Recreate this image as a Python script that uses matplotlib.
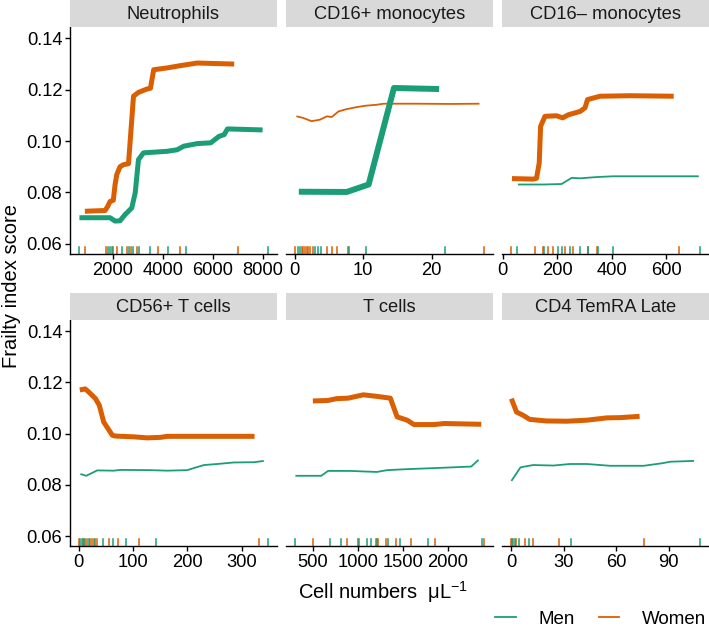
import matplotlib
matplotlib.use('Agg')
import matplotlib.pyplot as plt
from matplotlib.lines import Line2D

plt.rcParams['font.family'] = ['Liberation Sans', 'DejaVu Sans']

MEN = '#1B9E77'
WOMEN = '#D95F02'

# --- data ---------------------------------------------------------------
# Neutrophils
neut_men_x = [650, 1880, 2080, 2280, 2480, 2750, 2890, 3020, 3220, 4170, 4570, 4840, 5380, 5920, 6250, 6460, 6590, 8000]
neut_men_y = [0.0702, 0.0702, 0.0689, 0.0690, 0.0714, 0.0740, 0.0799, 0.0928, 0.0954, 0.0960, 0.0966, 0.0980, 0.0990, 0.0993, 0.1018, 0.1025, 0.1047, 0.1043]
neut_women_x = [870, 1680, 1780, 1880, 2010, 2080, 2150, 2280, 2420, 2620, 2820, 3020, 3360, 3500, 3630, 4170, 4710, 5380, 6860]
neut_women_y = [0.0727, 0.0730, 0.0745, 0.0765, 0.0770, 0.0830, 0.0870, 0.0900, 0.0908, 0.0912, 0.1174, 0.1189, 0.1202, 0.1205, 0.1277, 0.1284, 0.1293, 0.1303, 0.1299]
neut_men_rug = [650, 1810, 1880, 2013, 2350, 2620, 2820, 3050, 3470, 4190, 4910, 8200]
neut_women_rug = [870, 1720, 1950, 2150, 2550, 2730, 2980, 3790, 4680, 7000]

# CD16+ monocytes
cd16p_men_x = [0.6, 7.6, 10.8, 14.5, 21.1]
cd16p_men_y = [0.0803, 0.0802, 0.0831, 0.1206, 0.1202]
cd16p_women_x = [0.25, 1.2, 2.45, 3.7, 4.7, 5.4, 6.4, 7.6, 9.1, 10.3, 12.0, 13.0, 17.9, 22.8, 27.0]
cd16p_women_y = [0.1096, 0.1090, 0.1077, 0.1083, 0.1096, 0.1093, 0.1115, 0.1124, 0.1132, 0.1137, 0.1141, 0.1145, 0.1145, 0.1144, 0.1145]
cd16p_men_rug = [0.5, 0.8, 2.9, 3.4, 3.9, 8.0, 10.4, 21.9]
cd16p_women_rug = [0.1, 1.0, 1.25, 1.5, 1.75, 2.0, 2.2, 2.7, 4.7, 5.4, 6.2, 7.8, 27.6]

# CD16- monocytes
cd16n_men_x = [56, 148, 216, 253, 284, 345, 406, 719]
cd16n_men_y = [0.0831, 0.0831, 0.0833, 0.0857, 0.0855, 0.0860, 0.0863, 0.0863]
cd16n_women_x = [34, 112, 124, 134, 139, 155, 198, 220, 241, 284, 302, 311, 357, 468, 627]
cd16n_women_y = [0.0854, 0.0852, 0.0855, 0.0915, 0.1057, 0.1096, 0.1098, 0.1090, 0.1102, 0.1115, 0.1129, 0.1161, 0.1174, 0.1176, 0.1174]
cd16n_men_rug = [54, 150, 204, 216, 247, 284, 314, 351, 403, 722]
cd16n_women_rug = [32, 118, 146, 167, 185, 228, 259, 311, 345, 646]

# CD56+ T cells
cd56_men_x = [3, 14, 34, 65, 77, 132, 163, 200, 212, 231, 255, 286, 323, 341]
cd56_men_y = [0.0842, 0.0835, 0.0856, 0.0855, 0.0858, 0.0857, 0.0855, 0.0857, 0.0865, 0.0877, 0.0881, 0.0887, 0.0888, 0.0893]
cd56_women_x = [2, 12, 18, 31, 38, 46, 54, 62, 68, 102, 126, 151, 163, 225, 324]
cd56_women_y = [0.1170, 0.1174, 0.1163, 0.1136, 0.1110, 0.1045, 0.1019, 0.0993, 0.0990, 0.0987, 0.0983, 0.0985, 0.0989, 0.0989, 0.0989]
cd56_men_rug = [3, 8, 12.4, 18.5, 29.5, 45, 63.5, 87, 143, 348]
cd56_women_rug = [1.3, 6, 10.5, 15.4, 20.3, 24.6, 28, 34, 55, 72, 112, 332]

# T cells
tcell_men_x = [306, 594, 669, 912, 1212, 1325, 1549, 1848, 2261, 2343]
tcell_men_y = [0.0835, 0.0835, 0.0854, 0.0854, 0.0850, 0.0857, 0.0861, 0.0865, 0.0871, 0.0897]
tcell_women_x = [500, 669, 763, 893, 1062, 1212, 1362, 1437, 1549, 1624, 1848, 1961, 2373]
tcell_women_y = [0.1127, 0.1129, 0.1136, 0.1138, 0.1151, 0.1145, 0.1138, 0.1065, 0.1052, 0.1035, 0.1035, 0.1039, 0.1036]
tcell_men_rug = [306, 695, 811, 999, 1107, 1148, 1212, 1336, 1474, 1785, 2381]
tcell_women_rug = [500, 882, 1013, 1204, 1230, 1317, 1429, 1594, 1856, 2399]

# CD4 TemRA Late
temra_men_x = [0, 5.2, 12.4, 23.9, 33.5, 43.1, 56.5, 75.6, 86.2, 91, 104.4]
temra_men_y = [0.0815, 0.0868, 0.0877, 0.0875, 0.0881, 0.0881, 0.0874, 0.0874, 0.0884, 0.0890, 0.0893]
temra_women_x = [0, 2.9, 6.7, 10.5, 20.1, 31.6, 43.1, 54.6, 62.2, 73.3]
temra_women_y = [0.1136, 0.1084, 0.1071, 0.1055, 0.1049, 0.1048, 0.1052, 0.1061, 0.1062, 0.1067]
temra_men_rug = [0.6, 1.9, 4.4, 10.1, 33.9, 107.6]
temra_women_rug = [0, 1, 2.5, 7.6, 12.4, 27.2, 76]

titles = ['Neutrophils', 'CD16+ monocytes', 'CD16\u2013 monocytes',
          'CD56+ T cells', 'T cells', 'CD4 TemRA Late']
xticks = [[2000, 4000, 6000, 8000], [0, 10, 20], [0, 200, 400, 600],
          [0, 100, 200, 300], [500, 1000, 1500, 2000], [0, 30, 60, 90]]
yticks = [0.06, 0.08, 0.10, 0.12, 0.14]

panels = [
    (neut_men_x, neut_men_y, neut_women_x, neut_women_y, neut_men_rug, neut_women_rug),
    (cd16p_men_x, cd16p_men_y, cd16p_women_x, cd16p_women_y, cd16p_men_rug, cd16p_women_rug),
    (cd16n_men_x, cd16n_men_y, cd16n_women_x, cd16n_women_y, cd16n_men_rug, cd16n_women_rug),
    (cd56_men_x, cd56_men_y, cd56_women_x, cd56_women_y, cd56_men_rug, cd56_women_rug),
    (tcell_men_x, tcell_men_y, tcell_women_x, tcell_women_y, tcell_men_rug, tcell_women_rug),
    (temra_men_x, temra_men_y, temra_women_x, temra_women_y, temra_men_rug, temra_women_rug),
]
# line widths (men, women): thick = significant
widths = [(3.6, 3.6), (4.3, 1.3), (1.3, 3.6), (1.3, 3.6), (1.3, 3.6), (1.3, 3.6)]

# --- layout (pixels of a 709x628 figure) ----------------------------------
W, H = 709, 628
fig = plt.figure(figsize=(W / 100, H / 100), dpi=100)

col_x = [70, 286, 502]
col_w = 207
rows = [(27, 254), (320, 546)]   # axes top / bottom in px
strip_h = 27

for i, (mx, my, wx, wy, mrug, wrug) in enumerate(panels):
    r, c = divmod(i, 3)
    top, bot = rows[r]
    ax = fig.add_axes([col_x[c] / W, 1 - bot / H, col_w / W, (bot - top) / H])

    # strip
    sax = fig.add_axes([col_x[c] / W, 1 - top / H, col_w / W, strip_h / H])
    sax.set_facecolor('#D9D9D9')
    sax.set_xticks([]); sax.set_yticks([])
    for s in sax.spines.values():
        s.set_visible(False)
    sax.text(0.5, 0.48, titles[i], ha='center', va='center', fontsize=13.2,
             color='#1A1A1A', transform=sax.transAxes)

    lw_m, lw_w = widths[i]
    ax.plot(wx, wy, color=WOMEN, lw=lw_w, solid_capstyle='butt', solid_joinstyle='round')
    ax.plot(mx, my, color=MEN, lw=lw_m, solid_capstyle='butt', solid_joinstyle='round')

    for v in wrug:
        ax.axvline(v, ymin=0, ymax=0.03, color=WOMEN, lw=1.1)
    for v in mrug:
        ax.axvline(v, ymin=0, ymax=0.03, color=MEN, lw=1.1)

    allx = mrug + wrug
    lo, hi = min(allx), max(allx)
    pad = 0.05 * (hi - lo)
    ax.set_xlim(lo - pad, hi + pad)
    ax.set_ylim(0.0561, 0.1443)
    ax.set_xticks(xticks[i])

    ax.spines['top'].set_visible(False)
    ax.spines['right'].set_visible(False)
    ax.spines['bottom'].set_linewidth(1.0)
    ax.tick_params(axis='both', labelsize=13.2, length=3.5, width=1.0,
                   pad=2, colors='black')
    if c == 0:
        ax.spines['left'].set_linewidth(1.0)
        ax.set_yticks(yticks)
        ax.set_yticklabels([f'{t:.2f}' for t in yticks])
    else:
        ax.spines['left'].set_visible(False)
        ax.set_yticks([])

fig.text(383 / W, 1 - 592 / H, r'Cell numbers  $\mathregular{\mu L^{-1}}$',
         ha='center', va='center', fontsize=14.5)
fig.text(12 / W, 1 - 286 / H, 'Frailty index score', ha='center', va='center',
         rotation=90, fontsize=14.5)

handles = [Line2D([], [], color=MEN, lw=1.3), Line2D([], [], color=WOMEN, lw=1.3)]
fig.legend(handles, ['Men', 'Women'], loc='center right', ncol=2,
           bbox_to_anchor=(708 / W, 1 - 619 / H), frameon=False, fontsize=13.5,
           handlelength=1.1, columnspacing=1.3, handletextpad=1.2,
           borderpad=0.1, borderaxespad=0.0)

fig.savefig('out.png', dpi=100)
